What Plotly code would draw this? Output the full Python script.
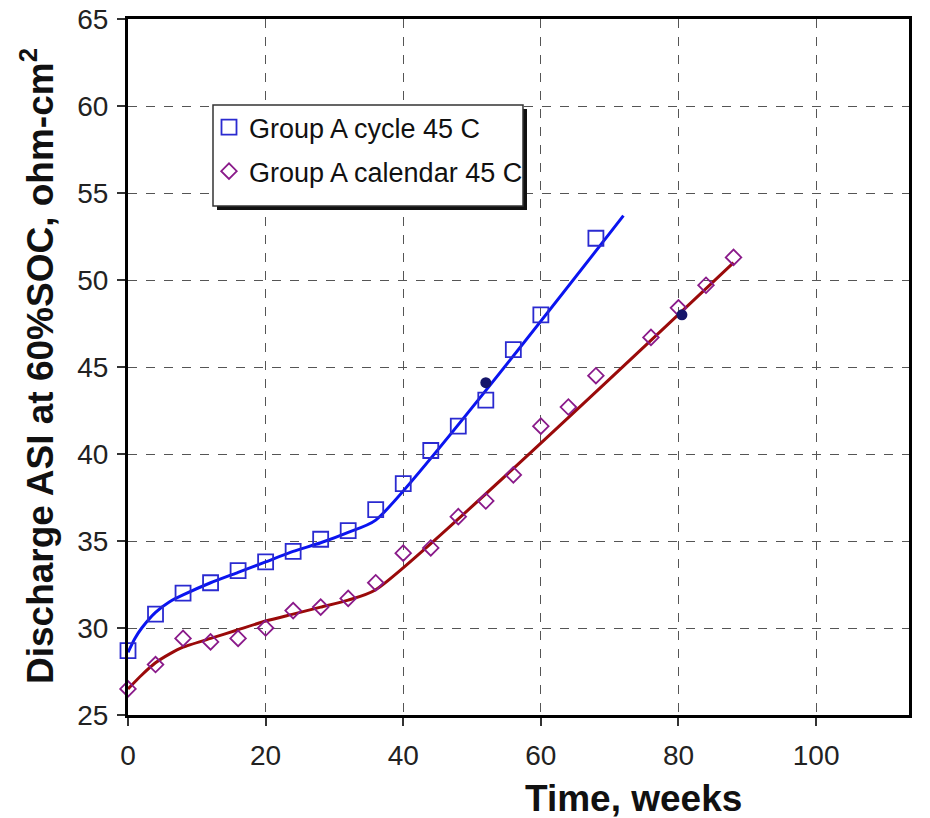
import plotly.graph_objects as go

# --- data ---
cycle_weeks = [0, 4, 8, 12, 16, 20, 24, 28, 32, 36, 40, 44, 48, 52, 56, 60, 68]
cycle_asi = [28.7, 30.8, 32.0, 32.6, 33.3, 33.8, 34.4, 35.1, 35.6, 36.8, 38.3, 40.2, 41.6, 43.1, 46.0, 48.0, 52.4]

calendar_weeks = [0, 4, 8, 12, 16, 20, 24, 28, 32, 36, 40, 44, 48, 52, 56, 60, 64, 68, 76, 80, 84, 88]
calendar_asi = [26.5, 27.9, 29.4, 29.2, 29.4, 30.0, 31.0, 31.2, 31.7, 32.6, 34.3, 34.6, 36.4, 37.3, 38.8, 41.6, 42.7, 44.5, 46.7, 48.4, 49.7, 51.3]

cycle_fit_weeks = [0, 1, 2, 4, 6, 8, 12, 16, 20, 24, 28, 32, 36, 72]
cycle_fit_asi = [28.6, 29.4, 30.0, 30.9, 31.5, 31.9, 32.6, 33.2, 33.8, 34.4, 34.9, 35.5, 36.2, 53.7]

calendar_fit_weeks = [0, 2, 4, 6, 8, 12, 16, 20, 24, 28, 32, 36, 88]
calendar_fit_asi = [26.5, 27.3, 28.0, 28.5, 28.9, 29.4, 29.9, 30.4, 30.8, 31.2, 31.6, 32.2, 51.0]

dark_weeks = [52, 80.5]
dark_asi = [44.1, 48.0]

x_ticks = [0, 20, 40, 60, 80, 100]
y_ticks = [25, 30, 35, 40, 45, 50, 55, 60, 65]

FONT = "Liberation Sans, Arial, sans-serif"

fig = go.Figure()
fig.add_trace(go.Scatter(x=cycle_fit_weeks, y=cycle_fit_asi, mode="lines",
                         line=dict(color="#0a14f0", width=3, shape="spline", smoothing=0.6),
                         showlegend=False, hoverinfo="skip"))
fig.add_trace(go.Scatter(x=calendar_fit_weeks, y=calendar_fit_asi, mode="lines",
                         line=dict(color="#9a0a0a", width=3, shape="spline", smoothing=0.6),
                         showlegend=False, hoverinfo="skip"))
fig.add_trace(go.Scatter(x=cycle_weeks, y=cycle_asi, mode="markers", name="Group A cycle 45 C",
                         legendgroup="a",
                         marker=dict(symbol="square-open", size=15, color="#2a2ad0", line=dict(width=1.8)),
                         cliponaxis=False))
fig.add_trace(go.Scatter(x=calendar_weeks, y=calendar_asi, mode="markers", name="Group A calendar 45 C",
                         legendgroup="b",
                         marker=dict(symbol="diamond-open", size=12, color="#8a1a8a", line=dict(width=1.8)),
                         cliponaxis=False))
fig.add_trace(go.Scatter(x=dark_weeks, y=dark_asi, mode="markers", showlegend=False,
                         marker=dict(symbol="circle", size=11, color="#15156a"), hoverinfo="skip"))

# page body margin is removed below, so the figure sits at (0, 0)
W, H = 930, 818
L, R, T, B = 128, 909, 19, 715
pw, ph = R - L, B - T

def px(xs):
    return (xs - L) / pw

def py(ys):
    return (B - ys) / ph

# legend box with shadow (screenshot coords)
lx0, lx1, ly0, ly1 = 213, 523, 105, 206
shapes = [
    dict(type="rect", xref="paper", yref="paper", x0=px(lx0 + 4), x1=px(lx1 + 4), y0=py(ly1 + 4), y1=py(ly0 + 4),
         fillcolor="#111", line=dict(width=0), layer="above"),
    dict(type="rect", xref="paper", yref="paper", x0=px(lx0), x1=px(lx1), y0=py(ly1), y1=py(ly0),
         fillcolor="white", line=dict(color="#333", width=1.5), layer="above"),
]

axis_common = dict(showline=True, linecolor="black", linewidth=3, mirror=True,
                   ticks="outside", ticklen=8, tickwidth=1.5, tickcolor="#333",
                   showgrid=True, gridcolor="#555", gridwidth=1, griddash="dash",
                   zeroline=False, automargin=False, ticklabeloverflow="allow",
                   tickfont=dict(family=FONT, size=28, color="#222"))

fig.update_xaxes(range=[0, 113.5], tickvals=x_ticks, ticklabelstandoff=5, **axis_common)
fig.update_yaxes(range=[25, 65], tickvals=y_ticks, ticklabelstandoff=3, **axis_common)

fig.update_layout(
    width=W, height=H,
    margin=dict(l=L, r=W - R, t=T, b=H - B, autoexpand=False),
    plot_bgcolor="white", paper_bgcolor="white",
    shapes=shapes,
    legend=dict(x=px(lx0 - 4), y=py(ly0 - 2), xanchor="left", yanchor="top",
                bgcolor="rgba(0,0,0,0)", borderwidth=0,
                font=dict(family=FONT, size=27, color="#111"),
                itemwidth=30, tracegroupgap=6),
    annotations=[
        dict(text="<b>Time, weeks</b>", xref="paper", yref="paper", x=px(633), y=py(798),
             showarrow=False, font=dict(family=FONT, size=37, color="#111"), xanchor="center", yanchor="middle"),
        dict(text="<b>Discharge ASI at 60%SOC, ohm-cm<sup>2</sup></b>", xref="paper", yref="paper",
             x=px(37), y=py(366), textangle=-90, showarrow=False,
             font=dict(family=FONT, size=37, color="#111"), xanchor="center", yanchor="middle"),
    ],
)

fig.write_html("out.html", config={"displayModeBar": False},
               post_script="document.body.style.margin='0';document.body.style.overflow='hidden';")
